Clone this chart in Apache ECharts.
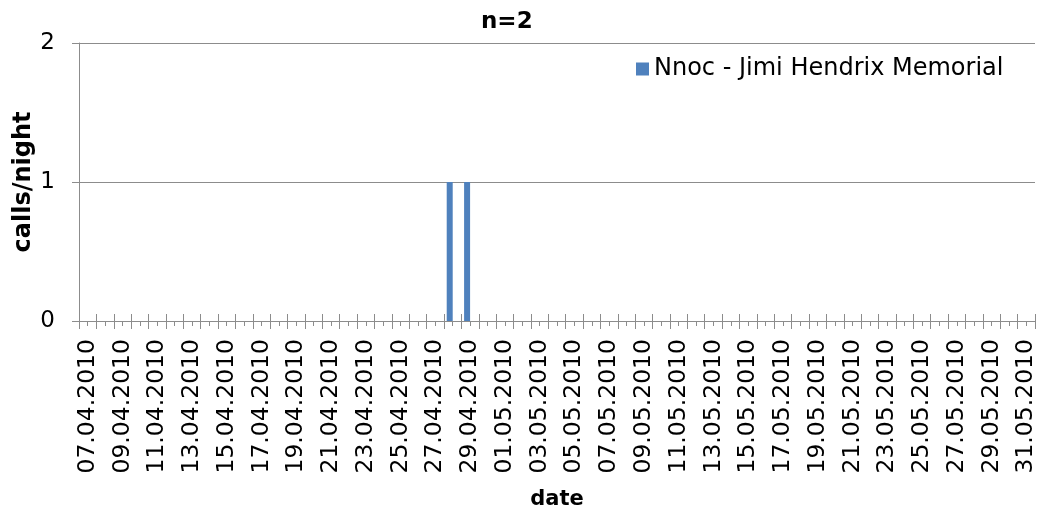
<!DOCTYPE html>
<html>
<head>
<meta charset="utf-8">
<script src="https://cdn.jsdelivr.net/npm/echarts@6/dist/echarts.min.js"></script>
<style>
html,body{margin:0;padding:0;background:#fff;}
#main{width:1039px;height:517px;}
</style>
</head>
<body>
<div id="main"></div>
<script>
const titleText = "n=2";
const seriesName = "Nnoc - Jimi Hendrix Memorial";
const dates = [
  "07.04.2010","08.04.2010","09.04.2010","10.04.2010","11.04.2010","12.04.2010","13.04.2010","14.04.2010",
  "15.04.2010","16.04.2010","17.04.2010","18.04.2010","19.04.2010","20.04.2010","21.04.2010","22.04.2010",
  "23.04.2010","24.04.2010","25.04.2010","26.04.2010","27.04.2010","28.04.2010","29.04.2010","30.04.2010",
  "01.05.2010","02.05.2010","03.05.2010","04.05.2010","05.05.2010","06.05.2010","07.05.2010","08.05.2010",
  "09.05.2010","10.05.2010","11.05.2010","12.05.2010","13.05.2010","14.05.2010","15.05.2010","16.05.2010",
  "17.05.2010","18.05.2010","19.05.2010","20.05.2010","21.05.2010","22.05.2010","23.05.2010","24.05.2010",
  "25.05.2010","26.05.2010","27.05.2010","28.05.2010","29.05.2010","30.05.2010","31.05.2010"
];
const callsPerNight = [
  0,0,0,0,0,0,0,0,
  0,0,0,0,0,0,0,0,
  0,0,0,0,0,1,1,0,
  0,0,0,0,0,0,0,0,
  0,0,0,0,0,0,0,0,
  0,0,0,0,0,0,0,0,
  0,0,0,0,0,0,0
];
const yTicks = [0, 1, 2];

const FONT = "DejaVu Sans";
const AX = "#8c8c8c";
const chart = echarts.init(document.getElementById('main'), null, {renderer: 'canvas'});
chart.setOption({
  animation: false,
  backgroundColor: '#ffffff',
  textStyle: {fontFamily: FONT},
  title: {
    text: titleText, left: 476, top: 6,
    textStyle: {fontFamily: FONT, fontSize: 23, fontWeight: 'bold', color: '#000'}
  },
  legend: {
    left: 631, top: 52, itemWidth: 13, itemHeight: 13, itemGap: 10,
    icon: 'rect',
    textStyle: {fontFamily: FONT, fontSize: 24, color: '#000', padding: [0, 0, 0, 0]},
    data: [seriesName]
  },
  grid: {left: 79, right: 4, top: 43, bottom: 196, containLabel: false},
  xAxis: [
    {
      type: 'category', data: dates, boundaryGap: true,
      name: 'date', nameLocation: 'middle', nameGap: 168, nameMoveOverlap: false,
      nameTextStyle: {fontFamily: FONT, fontSize: 21, fontWeight: 'bold', color: '#000'},
      axisLine: {show: true, lineStyle: {color: AX, width: 1}},
      axisTick: {show: true, interval: 0, alignWithLabel: false, length: 8, lineStyle: {color: AX}},
      axisLabel: {interval: 1, rotate: 90, margin: 18, fontFamily: FONT, fontSize: 23.5, color: '#000'},
      splitLine: {show: false}
    },
    {
      type: 'category', data: dates, boundaryGap: true, position: 'bottom',
      axisLine: {show: false},
      axisTick: {show: true, inside: true, interval: 0, alignWithLabel: false, length: 7, lineStyle: {color: AX}},
      axisLabel: {show: false}, splitLine: {show: false}
    },
    {
      type: 'category', data: dates, boundaryGap: true, position: 'bottom',
      axisLine: {show: false},
      axisTick: {show: true, interval: 0, alignWithLabel: true, length: 5, lineStyle: {color: AX}},
      axisLabel: {show: false}, splitLine: {show: false}
    }
  ],
  yAxis: {
    type: 'value', min: yTicks[0], max: yTicks[yTicks.length - 1], interval: 1,
    name: 'calls/night', nameLocation: 'middle', nameGap: 43, nameRotate: 90, nameMoveOverlap: false,
    nameTextStyle: {fontFamily: FONT, fontSize: 24, fontWeight: 'bold', color: '#000'},
    axisLine: {show: true, lineStyle: {color: AX, width: 1}},
    axisTick: {show: true, length: 7, lineStyle: {color: AX}},
    axisLabel: {margin: 24, fontFamily: FONT, fontSize: 23, color: '#000'},
    splitLine: {show: true, lineStyle: {color: AX, width: 1}}
  },
  series: [
    {
      name: seriesName, type: 'bar', xAxisIndex: 0, data: callsPerNight,
      barWidth: 6, barGap: '0%', itemStyle: {color: '#4f81bd'}
    },
    {
      name: 'spacer', type: 'bar', xAxisIndex: 0, data: [],
      barWidth: 6, barGap: '0%', silent: true, itemStyle: {color: 'rgba(0,0,0,0)'}
    }
  ]
});
</script>
</body>
</html>
